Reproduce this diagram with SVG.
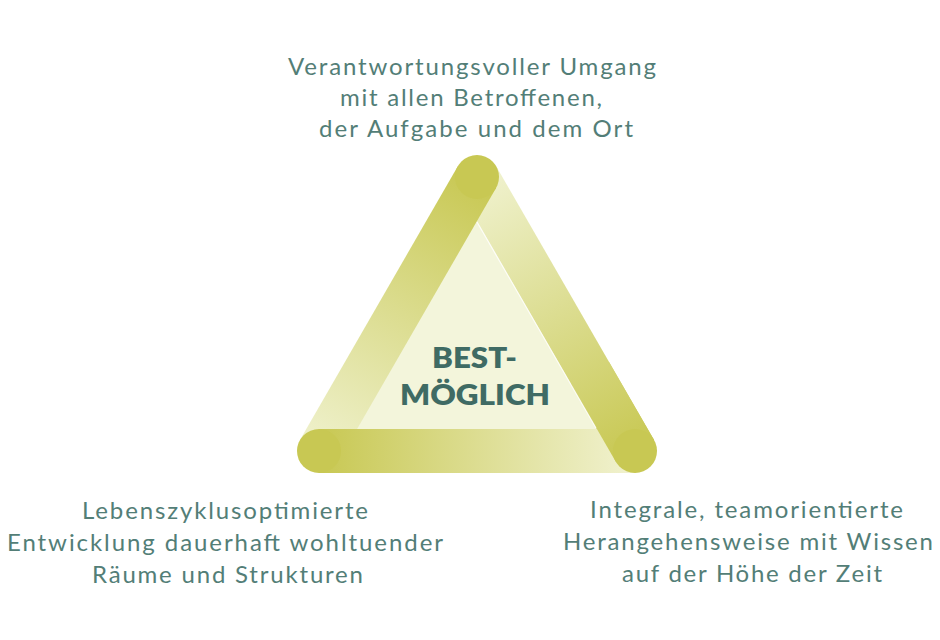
<svg xmlns="http://www.w3.org/2000/svg" width="940" height="640" viewBox="0 0 940 640">
  <style>
    .lbl { font-family: Lato, "Open Sans", "Liberation Sans", sans-serif; font-weight: 400; font-size: 24px; fill: #537e77; }
    .ttl { font-family: Lato, "Noto Sans", "Liberation Sans", sans-serif; font-weight: 800; font-size: 29px; fill: #3f6b64; }
    .bar { fill: none; stroke-width: 44; stroke-linecap: butt; }
  </style>
  <defs>
    <linearGradient id="gL" gradientUnits="userSpaceOnUse" x1="477" y1="177" x2="319" y2="451">
      <stop offset="0" stop-color="#c8c853"/>
      <stop offset="1" stop-color="#eff1cc"/>
    </linearGradient>
    <linearGradient id="gB" gradientUnits="userSpaceOnUse" x1="319" y1="451" x2="635" y2="451">
      <stop offset="0" stop-color="#c8c853"/>
      <stop offset="1" stop-color="#f1f2d0"/>
    </linearGradient>
    <linearGradient id="gR" gradientUnits="userSpaceOnUse" x1="477" y1="177" x2="635" y2="451">
      <stop offset="0" stop-color="#f0f2cf"/>
      <stop offset="1" stop-color="#c8c853"/>
    </linearGradient>
  </defs>
  <rect width="940" height="640" fill="#ffffff"/>

  <g id="triangle">
    <polygon points="477,177 319,451 635,451" fill="#f3f5db"/>
    <line class="bar" x1="477" y1="177" x2="635" y2="451" stroke="url(#gR)"/>
    <line class="bar" x1="477" y1="177" x2="319" y2="451" stroke="url(#gL)"/>
    <circle cx="477" cy="177" r="22" fill="#c8c853"/>
    <line class="bar" x1="319" y1="451" x2="635" y2="451" stroke="url(#gB)"/>
    <circle cx="319" cy="451" r="22" fill="#c8c853"/>
    <line class="bar" x1="590" y1="373" x2="635" y2="451" stroke="url(#gR)"/>
    <circle cx="635" cy="451" r="22" fill="#c8c853"/>
    <line x1="477" y1="222" x2="596" y2="428" stroke="#ffffff" stroke-width="1.2" stroke-opacity="0.8"/>
  </g>

  <g id="center">
    <text class="ttl" x="432" y="368" textLength="85" lengthAdjust="spacingAndGlyphs">BEST-</text>
    <text class="ttl" x="400" y="405" textLength="150" lengthAdjust="spacingAndGlyphs">MÖGLICH</text>
  </g>

  <g id="top-label">
    <text class="lbl" x="288" y="75" textLength="368" lengthAdjust="spacing">Verantwortungsvoller Umgang</text>
    <text class="lbl" x="340" y="106" textLength="262" lengthAdjust="spacing">mit allen Betroffenen,</text>
    <text class="lbl" x="319" y="137" textLength="314" lengthAdjust="spacing">der Aufgabe und dem Ort</text>
  </g>

  <g id="left-label">
    <text class="lbl" x="82" y="519" textLength="286" lengthAdjust="spacing">Lebenszyklusoptimierte</text>
    <text class="lbl" x="7" y="551" textLength="436" lengthAdjust="spacing">Entwicklung dauerhaft wohltuender</text>
    <text class="lbl" x="92" y="583" textLength="271" lengthAdjust="spacing">Räume und Strukturen</text>
  </g>

  <g id="right-label">
    <text class="lbl" x="590" y="518" textLength="313" lengthAdjust="spacing">Integrale, teamorientierte</text>
    <text class="lbl" x="563" y="550" textLength="370" lengthAdjust="spacing">Herangehensweise mit Wissen</text>
    <text class="lbl" x="622" y="582" textLength="260" lengthAdjust="spacing">auf der Höhe der Zeit</text>
  </g>

  <g id="connectors"/>
</svg>
